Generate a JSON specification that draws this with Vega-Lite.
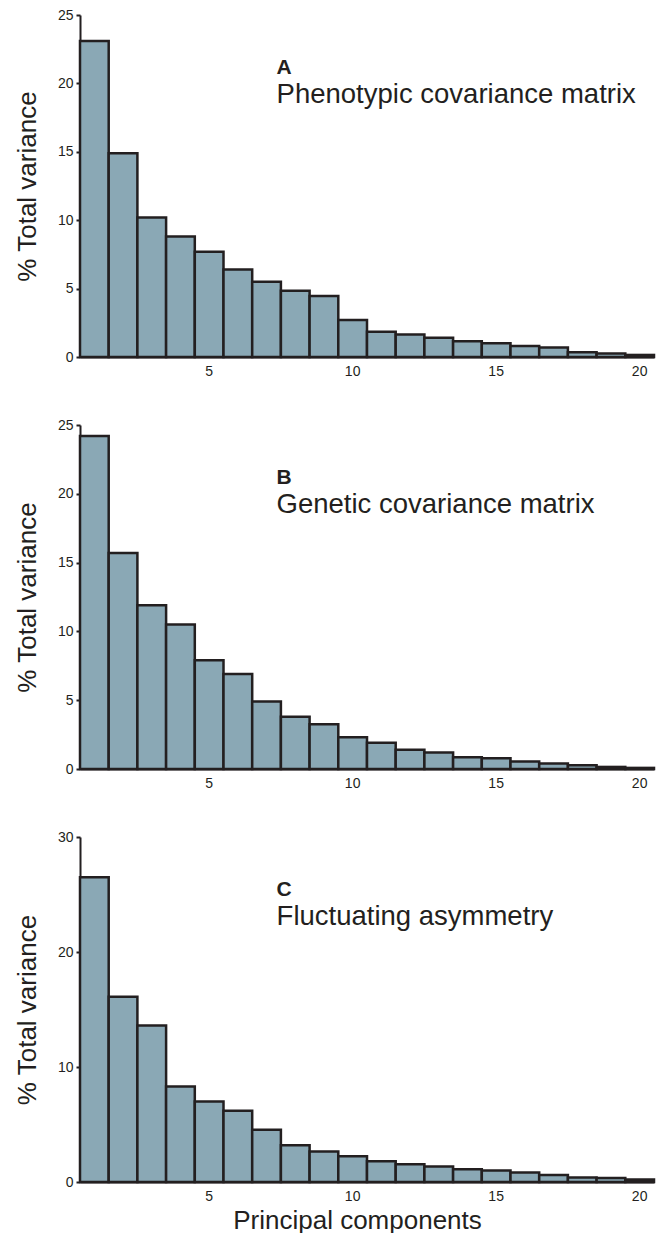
{
  "$schema": "https://vega.github.io/schema/vega-lite/v6.json",
  "padding": {"top": 8, "left": 14, "right": 5, "bottom": 0},
  "spacing": 40,
  "config": {
    "font": "Liberation Sans",
    "view": {"stroke": null},
    "axis": {
      "labelFont": "Liberation Sans",
      "titleFont": "Liberation Sans",
      "labelColor": "#231f20",
      "titleColor": "#231f20",
      "domainColor": "#231f20",
      "tickColor": "#231f20",
      "domainWidth": 2,
      "tickWidth": 2,
      "grid": false,
      "labelFontSize": 14,
      "titleFontSize": 26,
      "titleFontWeight": "normal"
    },
    "axisX": {"ticks": false, "labelAngle": 0, "labelPadding": 7},
    "axisY": {"tickSize": 4, "labelPadding": 3, "titlePadding": 17},
    "text": {"font": "Liberation Sans", "color": "#231f20", "align": "left", "baseline": "alphabetic"}
  },
  "vconcat": [
    {
      "width": 574,
      "height": 342,
      "data": {"values": [
        {"pc": 1, "pct": 23.1}, {"pc": 2, "pct": 14.9}, {"pc": 3, "pct": 10.2}, {"pc": 4, "pct": 8.8},
        {"pc": 5, "pct": 7.7}, {"pc": 6, "pct": 6.4}, {"pc": 7, "pct": 5.5}, {"pc": 8, "pct": 4.85},
        {"pc": 9, "pct": 4.45}, {"pc": 10, "pct": 2.7}, {"pc": 11, "pct": 1.85}, {"pc": 12, "pct": 1.65},
        {"pc": 13, "pct": 1.4}, {"pc": 14, "pct": 1.15}, {"pc": 15, "pct": 1.0}, {"pc": 16, "pct": 0.8},
        {"pc": 17, "pct": 0.7}, {"pc": 18, "pct": 0.35}, {"pc": 19, "pct": 0.25}, {"pc": 20, "pct": 0.15}
      ]},
      "layer": [
        {
          "mark": {"type": "bar", "fill": "#8aa8b5", "stroke": "#231f20", "strokeWidth": 2.5},
          "encoding": {
            "x": {"field": "pc", "type": "ordinal", "scale": {"paddingInner": 0, "paddingOuter": 0}, "axis": {"title": null, "values": [5, 10, 15, 20]}},
            "y": {"field": "pct", "type": "quantitative", "scale": {"domain": [0, 25], "nice": false}, "axis": {"title": "% Total variance", "values": [0, 5, 10, 15, 20, 25]}}
          }
        },
        {
          "data": {"values": [{"label": "A"}]},
          "mark": {"type": "text", "fontWeight": "bold", "fontSize": 21},
          "encoding": {
            "x": {"datum": 7, "type": "ordinal", "bandPosition": 0.85},
            "y": {"datum": 20.7, "type": "quantitative"},
            "text": {"field": "label"}
          }
        },
        {
          "data": {"values": [{"label": "Phenotypic covariance matrix"}]},
          "mark": {"type": "text", "fontSize": 27.5},
          "encoding": {
            "x": {"datum": 7, "type": "ordinal", "bandPosition": 0.85},
            "y": {"datum": 18.57, "type": "quantitative"},
            "text": {"field": "label"}
          }
        }
      ]
    },
    {
      "width": 574,
      "height": 344,
      "data": {"values": [
        {"pc": 1, "pct": 24.2}, {"pc": 2, "pct": 15.7}, {"pc": 3, "pct": 11.9}, {"pc": 4, "pct": 10.5},
        {"pc": 5, "pct": 7.9}, {"pc": 6, "pct": 6.9}, {"pc": 7, "pct": 4.9}, {"pc": 8, "pct": 3.8},
        {"pc": 9, "pct": 3.25}, {"pc": 10, "pct": 2.3}, {"pc": 11, "pct": 1.9}, {"pc": 12, "pct": 1.4},
        {"pc": 13, "pct": 1.2}, {"pc": 14, "pct": 0.85}, {"pc": 15, "pct": 0.78}, {"pc": 16, "pct": 0.55},
        {"pc": 17, "pct": 0.4}, {"pc": 18, "pct": 0.27}, {"pc": 19, "pct": 0.15}, {"pc": 20, "pct": 0.08}
      ]},
      "layer": [
        {
          "mark": {"type": "bar", "fill": "#8aa8b5", "stroke": "#231f20", "strokeWidth": 2.5},
          "encoding": {
            "x": {"field": "pc", "type": "ordinal", "scale": {"paddingInner": 0, "paddingOuter": 0}, "axis": {"title": null, "values": [5, 10, 15, 20]}},
            "y": {"field": "pct", "type": "quantitative", "scale": {"domain": [0, 25], "nice": false}, "axis": {"title": "% Total variance", "values": [0, 5, 10, 15, 20, 25]}}
          }
        },
        {
          "data": {"values": [{"label": "B"}]},
          "mark": {"type": "text", "fontWeight": "bold", "fontSize": 21},
          "encoding": {
            "x": {"datum": 7, "type": "ordinal", "bandPosition": 0.85},
            "y": {"datum": 20.72, "type": "quantitative"},
            "text": {"field": "label"}
          }
        },
        {
          "data": {"values": [{"label": "Genetic covariance matrix"}]},
          "mark": {"type": "text", "fontSize": 27.5},
          "encoding": {
            "x": {"datum": 7, "type": "ordinal", "bandPosition": 0.85},
            "y": {"datum": 18.6, "type": "quantitative"},
            "text": {"field": "label"}
          }
        }
      ]
    },
    {
      "width": 574,
      "height": 345,
      "data": {"values": [
        {"pc": 1, "pct": 26.5}, {"pc": 2, "pct": 16.1}, {"pc": 3, "pct": 13.6}, {"pc": 4, "pct": 8.3},
        {"pc": 5, "pct": 7.0}, {"pc": 6, "pct": 6.2}, {"pc": 7, "pct": 4.55}, {"pc": 8, "pct": 3.2},
        {"pc": 9, "pct": 2.65}, {"pc": 10, "pct": 2.25}, {"pc": 11, "pct": 1.8}, {"pc": 12, "pct": 1.55},
        {"pc": 13, "pct": 1.35}, {"pc": 14, "pct": 1.1}, {"pc": 15, "pct": 1.0}, {"pc": 16, "pct": 0.82},
        {"pc": 17, "pct": 0.6}, {"pc": 18, "pct": 0.4}, {"pc": 19, "pct": 0.35}, {"pc": 20, "pct": 0.22}
      ]},
      "layer": [
        {
          "mark": {"type": "bar", "fill": "#8aa8b5", "stroke": "#231f20", "strokeWidth": 2.5},
          "encoding": {
            "x": {"field": "pc", "type": "ordinal", "scale": {"paddingInner": 0, "paddingOuter": 0}, "axis": {"title": "Principal components", "titlePadding": 4, "titleX": 277, "values": [5, 10, 15, 20]}},
            "y": {"field": "pct", "type": "quantitative", "scale": {"domain": [0, 30], "nice": false}, "axis": {"title": "% Total variance", "values": [0, 10, 20, 30]}}
          }
        },
        {
          "data": {"values": [{"label": "C"}]},
          "mark": {"type": "text", "fontWeight": "bold", "fontSize": 21},
          "encoding": {
            "x": {"datum": 7, "type": "ordinal", "bandPosition": 0.85},
            "y": {"datum": 24.87, "type": "quantitative"},
            "text": {"field": "label"}
          }
        },
        {
          "data": {"values": [{"label": "Fluctuating asymmetry"}]},
          "mark": {"type": "text", "fontSize": 27.5},
          "encoding": {
            "x": {"datum": 7, "type": "ordinal", "bandPosition": 0.85},
            "y": {"datum": 22.34, "type": "quantitative"},
            "text": {"field": "label"}
          }
        }
      ]
    }
  ]
}
